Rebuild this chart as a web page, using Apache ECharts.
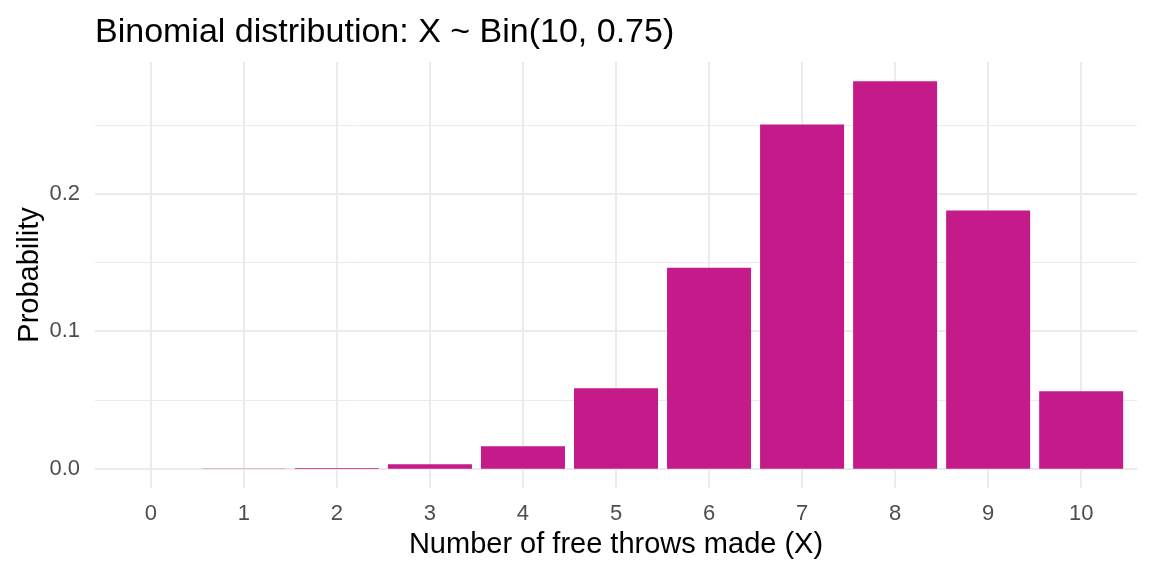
<!DOCTYPE html>
<html>
<head>
<meta charset="utf-8">
<script src="https://cdn.jsdelivr.net/npm/echarts@6/dist/echarts.min.js"></script>
<style>
  html, body { margin: 0; padding: 0; background: #fff; }
  #chart { width: 1152px; height: 576px; }
</style>
</head>
<body>
<div id="chart"></div>
<script>
// number of free throws made
var throwsMade = [0, 1, 2, 3, 4, 5, 6, 7, 8, 9, 10];
// probability
var probs = [0.000001, 0.00003, 0.0004, 0.0031, 0.0162, 0.0584, 0.146, 0.2503, 0.2816, 0.1877, 0.0563];
var yTicks = [0, 0.1, 0.2];
var yMinorTicks = [0.05, 0.15, 0.25];

var fontFam = 'Liberation Sans, Arial, sans-serif';
var gridColor = '#EBEBEB';

var chart = echarts.init(document.getElementById('chart'));

// ggplot style expansion: 0.6 units around discrete x, 5% around y
var yMax = Math.max.apply(null, probs);
var yMinLim = -yMax * 0.05;
var yMaxLim = yMax * 1.05;

var option = {
  backgroundColor: '#fff',
  animation: false,
  title: {
    text: 'Binomial distribution: X ~ Bin(10, 0.75)',
    left: 90,
    top: 11,
    textStyle: { fontFamily: fontFam, fontSize: 34, fontWeight: 'normal', color: '#000' }
  },
  grid: { left: 95, right: 15, top: 62, bottom: 88 },
  xAxis: {
    type: 'value',
    min: -0.6,
    max: 10.6,
    name: 'Number of free throws made (X)',
    nameLocation: 'middle',
    nameGap: 42,
    nameTextStyle: { fontFamily: fontFam, fontSize: 29, color: '#000' },
    axisLine: { show: false },
    axisTick: { show: false, customValues: throwsMade },
    axisLabel: {
      customValues: throwsMade,
      margin: 15,
      fontFamily: fontFam,
      fontSize: 22,
      color: '#4D4D4D'
    },
    splitLine: { show: true, lineStyle: { color: gridColor, width: 2 } }
  },
  yAxis: [{
    type: 'value',
    min: yMinLim,
    max: yMaxLim,
    name: 'Probability',
    nameLocation: 'middle',
    nameGap: 51,
    nameMoveOverlap: false,
    nameTextStyle: { fontFamily: fontFam, fontSize: 29, color: '#000' },
    axisLine: { show: false },
    axisTick: { show: false, customValues: yTicks },
    axisLabel: {
      customValues: yTicks,
      margin: 15,
      fontFamily: fontFam,
      fontSize: 22,
      color: '#4D4D4D',
      formatter: function (v) { return v.toFixed(1); }
    },
    splitLine: { show: true, lineStyle: { color: gridColor, width: 2 } }
  }, {
    // minor grid lines only
    type: 'value',
    position: 'left',
    min: yMinLim,
    max: yMaxLim,
    axisLine: { show: false },
    axisTick: { show: false, customValues: yMinorTicks },
    axisLabel: { show: false, customValues: yMinorTicks },
    splitLine: { show: true, lineStyle: { color: gridColor, width: 1 } }
  }],
  series: [{
    type: 'bar',
    yAxisIndex: 0,
    barWidth: 84,
    itemStyle: { color: '#C51A8A' },
    data: throwsMade.map(function (x, i) { return [x, probs[i]]; })
  }]
};

chart.setOption(option);
</script>
</body>
</html>
